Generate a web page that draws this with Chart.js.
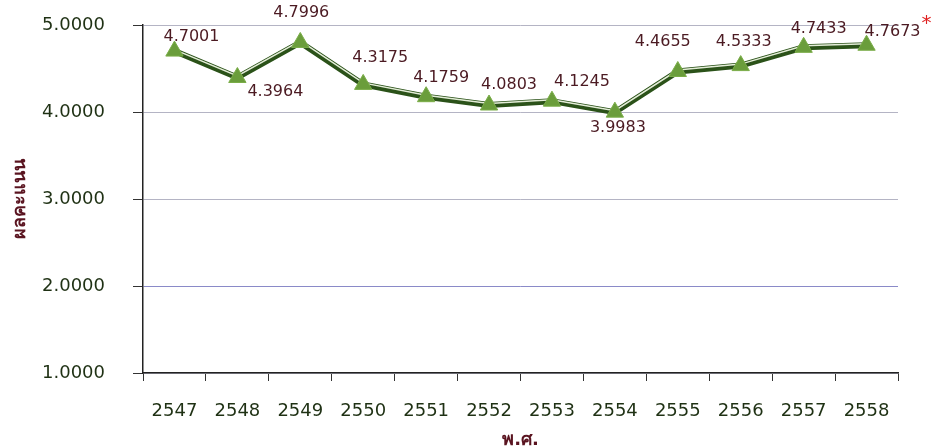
<!DOCTYPE html>
<html>
<head>
<meta charset="utf-8">
<script src="https://cdn.jsdelivr.net/npm/chart.js@4.4.1/dist/chart.umd.min.js"></script>
<style>
  html, body { margin: 0; padding: 0; background: #fff; }
  #wrap { width: 936px; height: 448px; position: relative; }
</style>
</head>
<body>
<div id="wrap"><canvas id="myChart"></canvas></div>
<script>
const years = ['2547', '2548', '2549', '2550', '2551', '2552', '2553', '2554', '2555', '2556', '2557', '2558'];
const scores = [4.7001, 4.3964, 4.7996, 4.3175, 4.1759, 4.0803, 4.1245, 3.9983, 4.4655, 4.5333, 4.7433, 4.7673];
const yTicks = [1, 2, 3, 4, 5];
const yTitle = 'ผลคะแนน';
const xTitle = 'พ.ศ.';
const starredIndex = 11; // preliminary value, marked with *

const FONT = "'DejaVu Sans', 'Noto Sans', sans-serif";

// where each value label sits relative to its marker (dx, dy)
const labelNudge = [
  [17, -14], [38, 14], [1, -30], [17, -27], [15, -19], [20, -20],
  [30, -19], [3, 16], [-15, -30], [3, -24], [15, -18], [26, -13]
];

const valueLabels = {
  id: 'valueLabels',
  afterDatasetsDraw(chart) {
    const ctx = chart.ctx;
    const meta = chart.getDatasetMeta(2);
    ctx.save();
    ctx.font = '16px ' + FONT;
    ctx.fillStyle = '#4b1a22';
    ctx.textAlign = 'center';
    ctx.textBaseline = 'middle';
    meta.data.forEach((pt, i) => {
      const [dx, dy] = labelNudge[i];
      const txt = scores[i].toFixed(4);
      ctx.fillText(txt, pt.x + dx, pt.y + dy);
      if (i === starredIndex) {
        const w = ctx.measureText(txt).width;
        ctx.save();
        ctx.fillStyle = '#e02020';
        ctx.font = '20px ' + FONT;
        ctx.textAlign = 'left';
        ctx.fillText('*', pt.x + dx + w / 2 + 1, pt.y + dy - 8);
        ctx.restore();
      }
    });
    ctx.restore();
  }
};

// lift the thin highlight line a little above the dark one
const highlightShift = {
  id: 'highlightShift',
  beforeDatasetDraw(chart, args) {
    if (args.index === 1) {
      chart.ctx.save();
      chart.ctx.translate(0, -1.5);
    }
  },
  afterDatasetDraw(chart, args) {
    if (args.index === 1) chart.ctx.restore();
  }
};

const ctx = document.getElementById('myChart').getContext('2d');
new Chart(ctx, {
  type: 'line',
  data: {
    labels: years,
    datasets: [
      {
        data: scores,
        borderColor: '#2b5219',
        borderWidth: 6,
        pointRadius: 0,
        tension: 0,
        order: 3
      },
      {
        data: scores,
        borderColor: '#e4edd8',
        borderWidth: 1.5,
        pointRadius: 0,
        tension: 0,
        order: 2
      },
      {
        data: scores,
        showLine: false,
        pointStyle: 'triangle',
        pointRadius: 10,
        pointBackgroundColor: '#6a9d3b',
        pointBorderColor: '#7aad48',
        pointBorderWidth: 1,
        order: 1
      }
    ]
  },
  options: {
    responsive: true,
    maintainAspectRatio: false,
    animation: false,
    layout: { autoPadding: false, padding: { left: 10, right: 38, top: 25, bottom: 0 } },
    plugins: {
      legend: { display: false },
      tooltip: { enabled: false }
    },
    scales: {
      x: {
        offset: true,
        grid: {
          offset: true,
          drawOnChartArea: false,
          drawTicks: true,
          tickLength: 8,
          tickColor: '#333333'
        },
        border: { color: '#222222', width: 1.5 },
        ticks: {
          color: '#1f3114',
          font: { family: FONT, size: 18 },
          padding: 20,
          maxRotation: 0
        },
        title: {
          display: true,
          text: xTitle,
          color: '#5a1420',
          font: { family: FONT, size: 18, weight: 'bold' },
          padding: { top: 0, bottom: -3 }
        },
        afterFit(scale) { scale.height = 75; }
      },
      y: {
        min: 1,
        max: 5,
        afterBuildTicks(scale) { scale.ticks = yTicks.map(v => ({ value: v })); },
        grid: {
          color: ctx => (ctx.tick && ctx.tick.value === 2 ? '#8a8ac8' : '#b4b4c4'),
          tickColor: '#333333',
          tickLength: 10,
          lineWidth: 1
        },
        border: { color: '#222222', width: 1.5 },
        ticks: {
          color: '#1f3114',
          font: { family: FONT, size: 18 },
          padding: 28,
          callback: v => Number(v).toFixed(4)
        },
        title: {
          display: true,
          text: yTitle,
          color: '#5a1420',
          font: { family: FONT, size: 18, weight: 'bold' },
          padding: { top: 0, bottom: 0 }
        },
        afterFit(scale) {
          scale.width = 133;
          // tick padding otherwise inflates the top gap
          scale.paddingTop = 0;
          scale.paddingBottom = 0;
        }
      }
    }
  },
  plugins: [highlightShift, valueLabels]
});
</script>
</body>
</html>
